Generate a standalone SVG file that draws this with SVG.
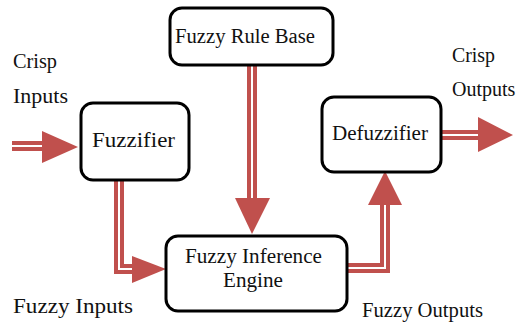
<svg xmlns="http://www.w3.org/2000/svg" width="518" height="324" viewBox="0 0 518 324" font-family="Liberation Serif, Times New Roman, serif" font-size="20">
<style>
.box{fill:#fff;stroke:#000;stroke-width:3}
text{fill:#111}
.sh{fill:none;stroke:#C0504D;stroke-width:10}
.sw{fill:none;stroke:#fff;stroke-width:2}
.hd{fill:#C0504D}
</style>
<rect width="518" height="324" fill="#fff"/>
<g id="connectors">
<path class="sh" d="M12,146 H44"/><path class="sw" d="M12,146 H44"/><polygon class="hd" points="42,131 78,147 42,163"/>
<path class="sh" d="M119,180 V269 H134"/><path class="sw" d="M119,180 V269 H134"/><polygon class="hd" points="132,256 166,269 132,283"/>
<path class="sh" d="M252,65 V200"/><path class="sw" d="M252,65 V200"/><polygon class="hd" points="235,198 270,198 252,234"/>
<path class="sh" d="M346,268 H385 V203"/><path class="sw" d="M346,268 H385 V203"/><polygon class="hd" points="368,205 402,205 385,171"/>
<path class="sh" d="M442,135 H480"/><path class="sw" d="M442,135 H480"/><polygon class="hd" points="478,117 513,135 478,152"/>
</g>
<g id="rulebase"><rect class="box" x="170" y="8" width="163" height="57" rx="12"/><text x="175" y="43" textLength="140" lengthAdjust="spacingAndGlyphs">Fuzzy Rule Base</text></g>
<g id="fuzzifier"><rect class="box" x="81" y="103" width="108" height="77" rx="12"/><text x="92" y="147" textLength="83" lengthAdjust="spacingAndGlyphs">Fuzzifier</text></g>
<g id="defuzzifier"><rect class="box" x="322" y="97" width="119" height="75" rx="12"/><text x="332" y="140" textLength="96" lengthAdjust="spacingAndGlyphs">Defuzzifier</text></g>
<g id="engine"><rect class="box" x="166" y="236" width="181" height="75" rx="12"/><text x="185" y="263" textLength="137" lengthAdjust="spacingAndGlyphs">Fuzzy Inference</text><text x="223" y="287" textLength="60" lengthAdjust="spacingAndGlyphs">Engine</text></g>
<g id="labels">
<text x="13" y="68" textLength="44" lengthAdjust="spacingAndGlyphs">Crisp</text>
<text x="13" y="103" textLength="55" lengthAdjust="spacingAndGlyphs">Inputs</text>
<text x="452" y="62" textLength="43" lengthAdjust="spacingAndGlyphs">Crisp</text>
<text x="452" y="96">Outputs</text>
<text x="13" y="313" textLength="120" lengthAdjust="spacingAndGlyphs">Fuzzy Inputs</text>
<text x="362" y="317" textLength="121" lengthAdjust="spacingAndGlyphs">Fuzzy Outputs</text>
</g>
</svg>
